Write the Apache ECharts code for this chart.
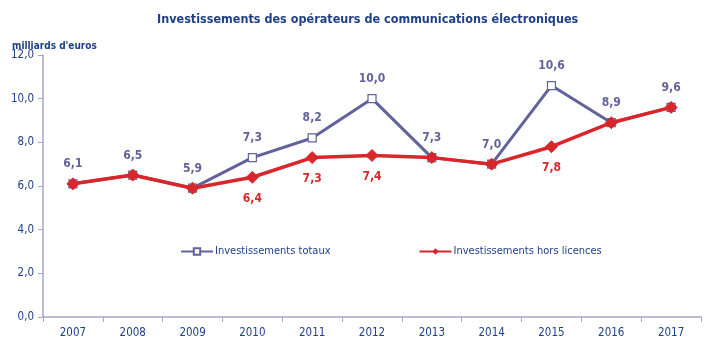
<!DOCTYPE html>
<html>
<head>
<meta charset="utf-8">
<script src="https://cdn.jsdelivr.net/npm/echarts@6/dist/echarts.min.js"></script>
<style>
  html, body { margin: 0; padding: 0; background: #ffffff; }
  #chart { width: 710px; height: 346px; }
</style>
</head>
<body>
<div id="chart"></div>
<script>
// Années
var years = ['2007', '2008', '2009', '2010', '2011', '2012', '2013', '2014', '2015', '2016', '2017'];
// Investissements totaux (milliards d'euros)
var totaux = [6.1, 6.5, 5.9, 7.3, 8.2, 10.0, 7.3, 7.0, 10.6, 8.9, 9.6];
// Investissements hors licences (milliards d'euros)
var horsLicences = [6.1, 6.5, 5.9, 6.4, 7.3, 7.4, 7.3, 7.0, 7.8, 8.9, 9.6];

var FONT = "'Liberation Sans Narrow', 'DejaVu Sans Condensed', 'Liberation Sans', sans-serif";
var BLUE_TEXT = '#1f3f86';
var GREY_BLUE = '#62629c';
var RED = '#d8262b';

function fr(v) { return v.toFixed(1).replace('.', ','); }

var chart = echarts.init(document.getElementById('chart'));
chart.setOption({
  animation: false,
  textStyle: { fontFamily: FONT },
  title: {
    text: 'Investissements des opérateurs de communications électroniques',
    left: 152,
    top: 8,
    textStyle: { color: BLUE_TEXT, fontSize: 12.5, fontWeight: 'bold', fontFamily: FONT }
  },
  graphic: [{
    type: 'text',
    left: 12,
    top: 41,
    style: { text: "milliards d'euros", fill: BLUE_TEXT, font: 'bold 10px ' + FONT }
  }],
  legend: {
    top: 241,
    left: 175,
    itemGap: 88,
    itemWidth: 32,
    itemHeight: 8,
    textStyle: { color: BLUE_TEXT, fontSize: 11, fontFamily: FONT, padding: [0, 0, 0, -3] },
    data: ['Investissements totaux', 'Investissements hors licences']
  },
  grid: { left: 43, right: 9, top: 55, bottom: 29 },
  xAxis: {
    type: 'category',
    data: years,
    boundaryGap: true,
    axisLine: { lineStyle: { color: '#a6a6c8', width: 1.5 } },
    axisTick: { show: true, alignWithLabel: false, length: 5, lineStyle: { color: '#a6a6c8' } },
    axisLabel: { color: BLUE_TEXT, fontSize: 11.5, margin: 10, fontFamily: FONT }
  },
  yAxis: {
    type: 'value',
    min: 0, max: 12, interval: 2,
    axisLine: { show: true, lineStyle: { color: '#a6a6c8', width: 1.5 } },
    axisTick: { show: true, length: 5, lineStyle: { color: '#a6a6c8' } },
    splitLine: { show: false },
    axisLabel: { color: BLUE_TEXT, fontSize: 11.5, margin: 9, fontFamily: FONT, formatter: function (v) { return fr(v); } }
  },
  series: [
    {
      name: 'Investissements totaux',
      type: 'line',
      data: totaux,
      symbol: 'rect',
      symbolSize: 8,
      lineStyle: { color: GREY_BLUE, width: 3 },
      itemStyle: { color: '#ffffff', borderColor: GREY_BLUE, borderWidth: 1.2 },
      label: {
        show: true,
        position: 'top',
        distance: 9,
        color: GREY_BLUE,
        fontSize: 12,
        fontWeight: 'bold',
        fontFamily: FONT,
        formatter: function (p) { return fr(p.value); }
      },
      z: 2
    },
    {
      name: 'Investissements hors licences',
      type: 'line',
      data: horsLicences,
      symbol: 'diamond',
      symbolSize: 12,
      lineStyle: { color: RED, width: 3.5 },
      itemStyle: { color: RED, borderColor: RED },
      label: {
        show: true,
        position: 'bottom',
        distance: 9,
        color: RED,
        fontSize: 12,
        fontWeight: 'bold',
        fontFamily: FONT,
        formatter: function (p) {
          return totaux[p.dataIndex] === p.value ? '' : fr(p.value);
        }
      },
      z: 3
    }
  ]
});
</script>
</body>
</html>
